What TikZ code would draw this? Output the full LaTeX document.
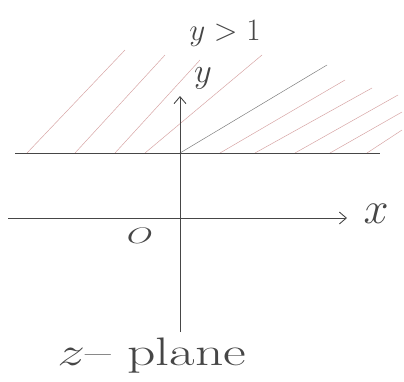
\documentclass[tikz,border=0pt]{standalone}
\usetikzlibrary{arrows.meta}
\definecolor{hatch}{RGB}{215,165,165}
\definecolor{ink}{RGB}{70,70,70}
\begin{document}
\begin{tikzpicture}[x=1pt,y=-1pt,
  axis/.style={draw=ink,line width=0.9pt},
  hatchline/.style={draw=hatch,line width=0.5pt},
  lab/.style={text=ink,font=\LARGE}]
\useasboundingbox (0,0) rectangle (404,381);
% hatching for y>1
\foreach \a/\b/\c/\d in {27/153/125/50, 75/153/165/55, 115/153/200/60, 145/153/262/55,
  220/153/345/80, 255/153/372/88, 295/153/398/95, 330/153/402/112, 367/153/402/130}
  \draw[hatchline] (\a,\b) -- (\c,\d);
\draw[draw=ink!70,line width=0.5pt] (180,153) -- (327,65);
% line y = 1
\coordinate (l1) at (15,153);
\coordinate (l2) at (380,153);
\draw[axis] (l1) -- (l2);
% axes
\coordinate (xs) at (8,218);
\coordinate (xe) at (347,218);
\coordinate (ys) at (180,332);
\coordinate (ye) at (180,96);
\draw[axis,-{Straight Barb[length=7pt,width=12pt]}] (xs) -- (xe);
\draw[axis,-{Straight Barb[length=7pt,width=12pt]}] (ys) -- (ye);
% labels
\node[lab,scale=2.6] (xl) at (376,214) {$x$};
\node[lab,scale=2.0] (yl) at (203,78) {$y$};
\node[lab,scale=1.8] (cond) at (225,33) {$y>1$};
\node[lab,scale=1.3,xscale=1.5] (o) at (140,236) {$O$};
\node[lab,scale=2.3,xscale=1.4] (zp) at (152,356) {$z$-- plane};
\end{tikzpicture}
\end{document}
